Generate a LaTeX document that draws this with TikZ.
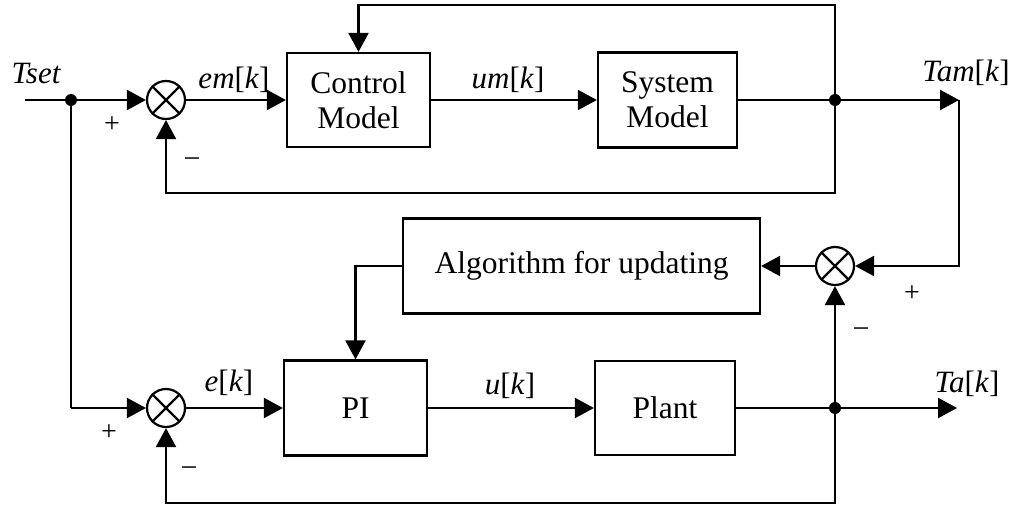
\documentclass[tikz,border=0pt]{standalone}
\usepackage{fontspec}
\setmainfont{Liberation Serif}
\usetikzlibrary{arrows.meta}
\begin{document}
\begin{tikzpicture}[x=1pt,y=-1pt,
  wire/.style={line width=2.2pt},
  arr/.style={wire,-{Triangle[length=19pt,width=20pt]}},
  blk/.style={draw,line width=2.2pt,inner sep=0pt,align=center,font=\fontsize{31.5}{35}\selectfont},
  sumnode/.style={draw,circle,minimum size=38pt,inner sep=0pt,line width=2.2pt},
  dotn/.style={circle,fill,inner sep=0pt,minimum size=12pt},
  lbl/.style={font=\fontsize{31}{35}\selectfont,inner sep=0pt},
  plus/.style={font=\fontsize{28}{30}\selectfont,inner sep=0pt},
  minus/.style={font=\fontsize{30}{30}\selectfont,inner sep=0pt}]
\useasboundingbox (0,0) rectangle (1014,508);
% blocks
\node[blk,minimum width=143pt,minimum height=94pt] (cm) at (358.5,100) {Control\\Model};
\node[blk,minimum width=139pt,minimum height=95pt] (sm) at (667.5,100) {System\\Model};
\node[blk,minimum width=357pt,minimum height=95pt] (alg) at (581.5,266) {Algorithm for updating};
\node[blk,minimum width=143pt,minimum height=95pt] (pi) at (355.5,408) {PI};
\node[blk,minimum width=140pt,minimum height=94pt] (plant) at (665,408) {Plant};
% summing junctions
\node[sumnode] (s1) at (166,100) {};
\node[sumnode] (s2) at (835,266) {};
\node[sumnode] (s3) at (166,408) {};
\foreach \s in {s1,s2,s3}{
  \draw[wire] (\s.north west) -- (\s.south east);
  \draw[wire] (\s.north east) -- (\s.south west);
}
% dots
\node[dotn] (d0) at (71,100) {};
\node[dotn] (d1) at (835,100) {};
\node[dotn] (d2) at (835,408) {};
% coordinates
\coordinate (tin) at (25,100);
\coordinate (top) at (835,5);
\coordinate (fb1) at (835,193);
\coordinate (tamtip) at (959,100);
\coordinate (tatip) at (957,408);
\coordinate (fb2) at (835,503);
\coordinate (tdown) at (71,408);
% connectors
\draw[wire] (tin) -- (d0);
\draw[arr] (d0) -- (s1.west);
\draw[arr] (s1.east) -- (cm.west);
\draw[arr] (cm.east) -- (sm.west);
\draw[arr] (sm.east) -- (tamtip);
\draw[arr] (d1) -- (top) -| (cm.north);
\draw[arr] (d1) -- (fb1) -| (s1.south);
\draw[arr] (tamtip) |- (s2.east);
\draw[arr] (s2.west) -- (alg.east);
\draw[arr] (alg.west) -| (pi.north);
\draw[wire] (d0) -- (tdown);
\draw[arr] (tdown) -- (s3.west);
\draw[arr] (s3.east) -- (pi.west);
\draw[arr] (pi.east) -- (plant.west);
\draw[arr] (plant.east) -- (tatip);
\draw[arr] (d2) -- (s2.south);
\draw[arr] (d2) -- (fb2) -| (s3.south);
% labels
\node[lbl] (ltset) at (36,74) {\itshape Tset};
\node[lbl] (lem) at (234,80) {\itshape em\/\upshape[\itshape k\/\upshape]};
\node[lbl] (lum) at (508,80) {\itshape um\/\upshape[\itshape k\/\upshape]};
\node[lbl] (ltam) at (966,73) {\itshape Tam\/\upshape[\itshape k\/\upshape]};
\node[lbl] (le) at (229,383) {\itshape e\/\upshape[\itshape k\/\upshape]};
\node[lbl] (lu) at (510,386) {\itshape u\/\upshape[\itshape k\/\upshape]};
\node[lbl] (lta) at (967,384) {\itshape Ta\/\upshape[\itshape k\/\upshape]};
% signs
\node[plus] (p1) at (112,125) {+};
\node[minus] (m1) at (192,163) {−};
\node[plus] (p3) at (109,433) {+};
\node[minus] (m3) at (189,472) {−};
\node[plus] (p2) at (912,294) {+};
\node[minus] (m2) at (861,333) {−};
\end{tikzpicture}
\end{document}
